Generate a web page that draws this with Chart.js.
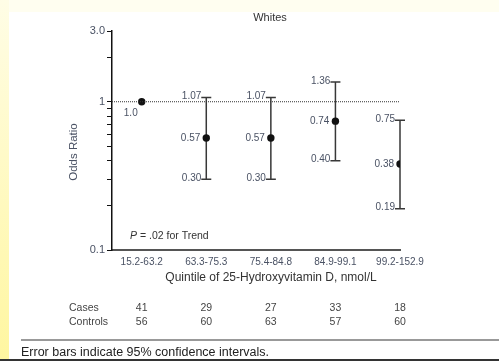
<!DOCTYPE html>
<html>
<head>
<meta charset="utf-8">
<script src="https://cdn.jsdelivr.net/npm/chart.js@4"></script>
<style>
  html,body{margin:0;padding:0;background:#fff;}
  #wrap{width:499px;height:361px;position:relative;}
</style>
</head>
<body>
<div id="wrap"><canvas id="orChart" width="499" height="361"></canvas></div>
<script>
// data
const quintiles=['15.2-63.2','63.3-75.3','75.4-84.8','84.9-99.1','99.2-152.9'];
const oddsRatio=[1.0,0.57,0.57,0.74,0.38];
const ciLow=[null,0.30,0.30,0.40,0.19];
const ciHigh=[null,1.07,1.07,1.36,0.75];
const orLabels=['1.0','0.57','0.57','0.74','0.38'];
const lowLabels=['','0.30','0.30','0.40','0.19'];
const highLabels=['','1.07','1.07','1.36','0.75'];
const cases=[41,29,27,33,18];
const controls=[56,60,63,57,60];
const yTicks=[0.1,0.2,0.3,0.4,0.5,0.6,0.7,0.8,0.9,1,2,3];

const FONT="'Liberation Sans', Arial, sans-serif";
const labelColor='#4a5264';

// page frame: yellow strip, white panel, rules
const framePlugin={
  id:'frame',
  beforeDraw(chart){
    const c=chart.ctx;
    c.save();
    c.fillStyle='#fffef0';
    c.fillRect(0,0,499,361);
    const g=c.createLinearGradient(0,0,0,361);
    g.addColorStop(0,'#fffde6');
    g.addColorStop(1,'#fff6a0');
    c.fillStyle=g;
    c.fillRect(0,0,9,361);
    c.fillStyle='#ffffff';
    c.fillRect(9,12,490,347);
    c.strokeStyle='#777';
    c.lineWidth=1.5;
    c.beginPath();c.moveTo(21,340);c.lineTo(499,340);c.stroke();
    c.strokeStyle='#333';
    c.lineWidth=2;
    c.beginPath();c.moveTo(0,360);c.lineTo(499,360);c.stroke();
    c.restore();
  }
};

// confidence interval bars
const errorBars={
  id:'errorBars',
  beforeDatasetsDraw(chart){
    const c=chart.ctx,xs=chart.scales.x,ys=chart.scales.y;
    c.save();
    c.strokeStyle='#383838';
    c.lineWidth=1.5;
    for(let i=0;i<quintiles.length;i++){
      if(ciLow[i]==null) continue;
      const x=xs.getPixelForValue(i);
      const y1=ys.getPixelForValue(ciLow[i]);
      const y2=ys.getPixelForValue(ciHigh[i]);
      c.beginPath();
      c.moveTo(x,y1);c.lineTo(x,y2);
      c.moveTo(x-5,y1);c.lineTo(x+5,y1);
      c.moveTo(x-5,y2);c.lineTo(x+5,y2);
      c.stroke();
    }
    c.restore();
  }
};

// value labels, titles, counts table, footnote
const textPlugin={
  id:'texts',
  afterDraw(chart){
    const c=chart.ctx,xs=chart.scales.x,ys=chart.scales.y;
    c.save();
    c.font='10px '+FONT;
    c.fillStyle=labelColor;
    c.textAlign='right';
    c.textBaseline='middle';
    for(let i=0;i<quintiles.length;i++){
      const x=xs.getPixelForValue(i);
      const y=ys.getPixelForValue(oddsRatio[i]);
      if(i===0){
        c.fillText(orLabels[i],x-4,y+12);
        continue;
      }
      c.fillText(orLabels[i],x-6,y);
      c.fillText(highLabels[i],x-5,ys.getPixelForValue(ciHigh[i])-1);
      c.fillText(lowLabels[i],x-5,ys.getPixelForValue(ciLow[i])-1);
    }
    // title
    c.fillStyle='#333';
    c.textAlign='center';
    c.font='11px '+FONT;
    c.fillText('Whites',270,18);
    // x title
    c.font='12px '+FONT;
    c.fillText('Quintile of 25-Hydroxyvitamin D, nmol/L',271,278);
    // y title
    c.save();
    c.fillStyle=labelColor;
    c.translate(74,152);
    c.rotate(-Math.PI/2);
    c.font='11.5px '+FONT;
    c.fillText('Odds Ratio',0,0);
    c.restore();
    // trend note
    c.textAlign='left';
    c.font='italic 10.5px '+FONT;
    c.fillText('P',130,236);
    const pw=c.measureText('P').width;
    c.font='10.5px '+FONT;
    c.fillText(' = .02 for Trend',130+pw,236);
    // cases / controls
    c.fillStyle='#444';
    c.font='10.5px '+FONT;
    c.fillText('Cases',69,308);
    c.fillText('Controls',69,322);
    c.textAlign='center';
    for(let i=0;i<quintiles.length;i++){
      const x=xs.getPixelForValue(i);
      c.fillText(String(cases[i]),x,308);
      c.fillText(String(controls[i]),x,322);
    }
    // footnote
    c.textAlign='left';
    c.fillStyle='#222';
    c.font='12.5px '+FONT;
    c.fillText('Error bars indicate 95% confidence intervals.',21,353);
    c.restore();
  }
};

const ctx=document.getElementById('orChart').getContext('2d');
const orChart=new Chart(ctx,{
  type:'scatter',
  data:{
    datasets:[{
      type:'line',
      data:[{x:-0.46,y:1},{x:quintiles.length-1,y:1}],
      borderColor:'#333',
      borderWidth:1,
      borderDash:[1,1],
      pointRadius:0
    },{
      data:oddsRatio.map((v,i)=>({x:i,y:v})),
      backgroundColor:'#111',
      borderWidth:0,
      pointRadius:3.7
    }]
  },
  options:{
    responsive:false,
    animation:false,
    layout:{padding:{left:0,top:31,right:99,bottom:90}},
    plugins:{legend:{display:false},tooltip:{enabled:false}},
    scales:{
      x:{
        type:'linear',
        min:-0.46,
        max:quintiles.length-1,
        afterBuildTicks(scale){scale.ticks=quintiles.map((q,i)=>({value:i}));},
        afterFit(scale){scale.height=21;},
        grid:{display:false,drawTicks:false},
        border:{display:true,color:'#555',width:2},
        ticks:{
          autoSkip:false,
          maxRotation:0,
          padding:6,
          color:labelColor,
          font:{family:FONT,size:10},
          callback:(v)=>quintiles[v]
        }
      },
      y:{
        type:'logarithmic',
        min:0.1,
        max:3,
        afterBuildTicks(scale){scale.ticks=yTicks.map(v=>({value:v}));},
        afterFit(scale){scale.width=112;},
        grid:{display:true,drawOnChartArea:false,drawTicks:true,tickLength:5,color:'#111',lineWidth:1},
        border:{display:true,color:'#111',width:1.5},
        ticks:{
          autoSkip:false,
          padding:2,
          color:labelColor,
          font:{family:FONT,size:11},
          callback:(v)=>v===0.1?'0.1':v===1?'1':v===3?'3.0':''
        }
      }
    }
  },
  plugins:[framePlugin,errorBars,textPlugin]
});
</script>
</body>
</html>
